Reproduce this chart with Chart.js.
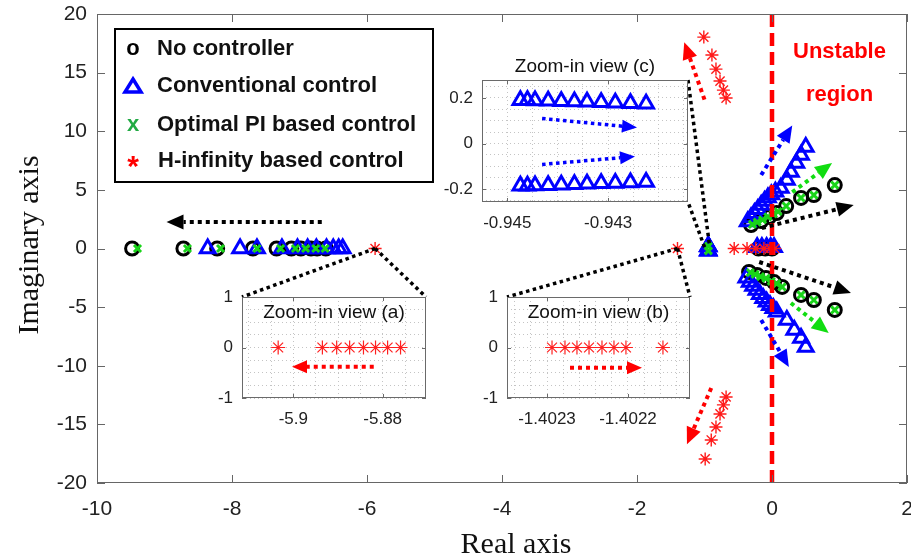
<!DOCTYPE html>
<html><head><meta charset="utf-8">
<script src="https://cdn.jsdelivr.net/npm/chart.js@4.4.0/dist/chart.umd.min.js"></script>
<style>
html,body{margin:0;padding:0;background:#fff;}
#wrap{position:relative;width:911px;height:560px;overflow:hidden;}
#main{position:absolute;left:0;top:0;}
.inset{position:absolute;}
.inset canvas{display:block;}
</style></head><body>
<div id="wrap">
<canvas id="main" width="911" height="560"></canvas>
<div class="inset" id="boxA" style="left:200px;top:280px;width:240px;height:160px"><canvas id="insetA" width="240" height="160"></canvas></div>
<div class="inset" id="boxB" style="left:465px;top:280px;width:240px;height:160px"><canvas id="insetB" width="240" height="160"></canvas></div>
<div class="inset" id="boxC" style="left:440px;top:50px;width:260px;height:195px"><canvas id="insetC" width="260" height="195"></canvas></div>
</div>
<script>
// ---------------- data (main plot: [real, imaginary]) ----------------
const xTicksMain = [-10, -8, -6, -4, -2, 0, 2];
const yTicksMain = [-20, -15, -10, -5, 0, 5, 10, 15, 20];

const noController = [
  [-9.48,0],[-8.72,0],[-8.22,0],[-7.69,0],[-7.34,0],[-7.12,0],[-6.98,0],[-6.83,0],[-6.74,0],[-6.61,0],
  [-0.20,0],[-0.10,0],[0.00,0],
  [-0.31,2.00],[-0.16,2.34],[-0.04,2.69],[0.07,3.03],[0.21,3.62],[0.43,4.31],[0.62,4.56],[0.93,5.41],
  [-0.34,-2.00],[-0.22,-2.26],[-0.09,-2.51],[0.03,-2.86],[0.15,-3.28],[0.43,-3.96],[0.62,-4.39],[0.93,-5.24]
];
const conventional = [
  [-8.36,0],[-7.88,0],[-7.63,0],[-7.26,0],[-7.03,0],[-6.88,0],[-6.75,0],[-6.60,0],[-6.50,0],[-6.42,0],[-6.36,0],
  [-0.945,0.19],[-0.944,0.19],[-0.943,0.18],[-0.942,0.175],
  [-0.945,-0.185],[-0.944,-0.18],[-0.943,-0.175],[-0.942,-0.17],
  [-0.22,0.1],[-0.15,0.1],[-0.08,0.1],[-0.02,0.1],[0.03,0.1],
  [-0.36,2.30],[-0.31,2.65],[-0.26,3.00],[-0.21,3.35],[-0.16,3.70],[-0.11,4.05],[-0.06,4.35],[-0.01,4.60],[0.05,4.85],
  [0.13,5.16],[0.22,5.84],[0.28,6.52],[0.36,7.29],[0.43,7.97],[0.50,8.65],
  [-0.38,-2.50],[-0.33,-2.85],[-0.28,-3.20],[-0.23,-3.55],[-0.18,-3.90],[-0.13,-4.25],[-0.08,-4.55],[-0.03,-4.85],[0.02,-5.10],
  [0.07,-5.40],[0.22,-6.10],[0.33,-6.95],[0.43,-7.63],[0.50,-8.40]
];
const optimalPI = [
  [-9.40,0],[-8.66,0],[-8.17,0],[-7.63,0],[-7.28,0],[-7.06,0],[-6.91,0],[-6.76,0],[-6.62,0],
  [-0.943,0.2],[-0.943,-0.2],
  [-0.29,2.05],[-0.22,2.25],[-0.14,2.45],[-0.06,2.70],[0.02,2.95],[0.09,3.15],[0.21,3.62],[0.43,4.31],[0.62,4.56],[0.93,5.41],
  [-0.32,-2.05],[-0.25,-2.20],[-0.17,-2.40],[-0.09,-2.55],[-0.01,-2.80],[0.07,-3.00],[0.15,-3.28],[0.43,-3.96],[0.62,-4.39],[0.93,-5.24]
];
const hInfinity = [
  [-5.88,0],[-1.40,0],
  [-0.56,0],[-0.37,0],[-0.24,0],[-0.12,0],[-0.03,0],[0.04,0],
  [-1.01,18.03],[-0.89,16.50],[-0.83,15.30],[-0.77,14.28],[-0.72,13.51],[-0.68,12.83],
  [-0.68,-12.66],[-0.72,-13.34],[-0.77,-14.11],[-0.83,-15.22],[-0.90,-16.33],[-0.99,-17.95]
];

// ---------------- data (zoom-in views) ----------------
const insetA_stars = [-5.9034,-5.8935,-5.8903,-5.8874,-5.8843,-5.8816,-5.8789,-5.8760];
const insetA_xLabels = [-5.9, -5.88];
const insetA_xGrid = [-5.91,-5.905,-5.9,-5.895,-5.89,-5.885,-5.88,-5.875];
const insetA_yLabels = [-1, 0, 1];
const insetA_yGrid = [-1,-0.75,-0.5,-0.25,0,0.25,0.5,0.75,1];

const insetB_stars = [-1.4022938,-1.4022778,-1.4022630,-1.4022481,-1.4022321,-1.4022173,-1.4022025,-1.4021568];
const insetB_xLabels = [-1.4023, -1.4022];
const insetB_xGrid = [-1.40234,-1.40232,-1.4023,-1.40228,-1.40226,-1.40224,-1.40222,-1.4022,-1.40218,-1.40216,-1.40214];
const insetB_yLabels = [-1, 0, 1];
const insetB_yGrid = [-1,-0.75,-0.5,-0.25,0,0.25,0.5,0.75,1];

const insetC_re = [-0.94474,-0.94460,-0.94445,-0.94419,-0.94393,-0.94367,-0.94342,-0.94314,-0.94286,-0.94256,-0.94225];
const insetC_imUpper = [0.190,0.190,0.189,0.188,0.186,0.185,0.183,0.181,0.179,0.177,0.175];
const insetC_imLower = [-0.186,-0.186,-0.185,-0.183,-0.181,-0.179,-0.177,-0.175,-0.173,-0.171,-0.169];
const insetC_xLabels = [-0.945, -0.943];
const insetC_xGrid = [-0.945,-0.9445,-0.944,-0.9435,-0.943,-0.9425,-0.942,-0.9415];
const insetC_yLabels = [-0.2, 0, 0.2];
const insetC_yGrid = [-0.25,-0.2,-0.15,-0.1,-0.05,0,0.05,0.1,0.15,0.2,0.25];

// ---------------- annotations (data units) ----------------
const mainArrows = [
  {from:[-6.67,2.26], to:[-8.97,2.26], color:'#000'},
  {from:[-1.00,12.7], to:[-1.30,17.6], color:'#ff0000'},
  {from:[-0.90,-11.9], to:[-1.26,-16.7], color:'#ff0000'},
  {from:[-0.16,6.27], to:[0.30,10.5], color:'#0000ff'},
  {from:[0.30,4.8], to:[0.89,7.3], color:'#11dd11'},
  {from:[-0.15,1.75], to:[1.21,3.7], color:'#000'},
  {from:[-0.19,-1.15], to:[1.17,-3.79], color:'#000'},
  {from:[0.28,-4.65], to:[0.84,-7.2], color:'#11dd11'},
  {from:[-0.16,-6.1], to:[0.25,-10.1], color:'#0000ff'}
];
const connectors = [
  {at:[-5.88,0], inset:'A', corner:'tl'}, {at:[-5.88,0], inset:'A', corner:'tr'},
  {at:[-1.40,0], inset:'B', corner:'tl'}, {at:[-1.40,0], inset:'B', corner:'tr'},
  {at:[-0.93,0.45], inset:'C', corner:'tr'}, {at:[-1.0,0.12], inset:'C', corner:'br'}
];
const legendItems = [
  {sym:'o', label:'No controller', color:'#000'},
  {sym:'tri', label:'Conventional control', color:'#0000ff'},
  {sym:'x', label:'Optimal PI based control', color:'#22aa44'},
  {sym:'*', label:'H-infinity based control', color:'#ff0000'}
];

const SANS = "'Liberation Sans', Arial, sans-serif";
const SERIF = "'Liberation Serif', 'Times New Roman', serif";
const pts = arr => arr.map(([x,y]) => ({x, y}));

function drawArrow(ctx, x1, y1, x2, y2, color, lw, hl, hw, dash){
  const ang = Math.atan2(y2-y1, x2-x1);
  const bx = x2 - hl*Math.cos(ang), by = y2 - hl*Math.sin(ang);
  ctx.save();
  ctx.strokeStyle = color; ctx.fillStyle = color; ctx.lineWidth = lw;
  ctx.setLineDash(dash); ctx.lineCap = 'butt';
  ctx.beginPath(); ctx.moveTo(x1,y1); ctx.lineTo(bx,by); ctx.stroke();
  ctx.setLineDash([]);
  ctx.beginPath(); ctx.moveTo(x2,y2);
  ctx.lineTo(bx + hw/2*Math.sin(ang), by - hw/2*Math.cos(ang));
  ctx.lineTo(bx - hw/2*Math.sin(ang), by + hw/2*Math.cos(ang));
  ctx.closePath(); ctx.fill();
  ctx.restore();
}
function labelFor(v, labels){
  for (const L of labels){ if (Math.abs(v - L) < 1e-9) return String(L); }
  return '';
}
function noPadX(s, h){ s.height = h; s.paddingLeft = 0; s.paddingRight = 0; }
function noPadY(s, w){ s.width = w; s.paddingTop = 0; s.paddingBottom = 0; }

// ---------------- inset charts ----------------
function insetDecor(opt){
  return {
    id:'insetDecor',
    beforeDraw(chart){
      const {ctx, chartArea:a} = chart;
      ctx.save(); ctx.fillStyle = '#fff';
      ctx.fillRect(a.left, a.top, a.right-a.left, a.bottom-a.top);
      ctx.restore();
    },
    afterDatasetsDraw(chart){
      const {ctx, chartArea:a, scales:{x, y}} = chart;
      ctx.save();
      (opt.arrows || []).forEach(ar => {
        drawArrow(ctx, x.getPixelForValue(ar.from[0]), y.getPixelForValue(ar.from[1]),
          x.getPixelForValue(ar.to[0]), y.getPixelForValue(ar.to[1]), ar.color, ar.lw, 15, 13, [ar.lw, ar.lw]);
      });
      ctx.strokeStyle = '#6a6a6a'; ctx.lineWidth = 1; ctx.setLineDash([]);
      ctx.strokeRect(a.left+0.5, a.top+0.5, a.right-a.left-1, a.bottom-a.top-1);
      ctx.beginPath();
      opt.xLabels.forEach(v => { const px = Math.round(x.getPixelForValue(v))+0.5;
        ctx.moveTo(px, a.bottom); ctx.lineTo(px, a.bottom-4); ctx.moveTo(px, a.top); ctx.lineTo(px, a.top+4); });
      opt.yLabels.forEach(v => { const py = Math.round(y.getPixelForValue(v))+0.5;
        ctx.moveTo(a.left, py); ctx.lineTo(a.left+4, py); ctx.moveTo(a.right, py); ctx.lineTo(a.right-4, py); });
      ctx.stroke();
      ctx.fillStyle = '#111'; ctx.font = '19px ' + SANS; ctx.textAlign = 'center'; ctx.textBaseline = 'middle';
      ctx.fillText(opt.title, (a.left + a.right)/2, opt.titleY);
      ctx.restore();
    }
  };
}
function insetChart(id, opt){
  return new Chart(document.getElementById(id), {
    type:'scatter',
    data:{datasets: opt.datasets},
    options:{
      responsive:false, animation:false, devicePixelRatio:1, events:[],
      layout:{autoPadding:false, padding:{top:opt.padTop, right:opt.padRight, left:0, bottom:0}},
      plugins:{legend:{display:false}, tooltip:{enabled:false}},
      scales:{
        x:{type:'linear', min:opt.xMin, max:opt.xMax,
          afterBuildTicks:s => { s.ticks = opt.xGrid.map(v => ({value:v})); },
          afterFit:s => noPadX(s, opt.xH),
          grid:{color:'#c4c4c4', lineWidth:1, drawTicks:false},
          border:{display:false, dash:[1,3]},
          ticks:{autoSkip:false, maxRotation:0, padding:opt.xPad, font:{family:SANS, size:17}, color:'#222',
            callback:v => labelFor(v, opt.xLabels)}},
        y:{type:'linear', min:opt.yMin, max:opt.yMax,
          afterBuildTicks:s => { s.ticks = opt.yGrid.map(v => ({value:v})); },
          afterFit:s => noPadY(s, opt.yW),
          grid:{color:'#c4c4c4', lineWidth:1, drawTicks:false},
          border:{display:false, dash:[1,3]},
          ticks:{autoSkip:false, padding:opt.yPad, font:{family:SANS, size:17}, color:'#222',
            callback:v => labelFor(v, opt.yLabels)}}
      }
    },
    plugins:[insetDecor(opt)]
  });
}

const starStyle = {pointStyle:'star', pointRadius:7, borderColor:'#ff2020', backgroundColor:'#ff2020', borderWidth:1.2, showLine:false};
const triStyle = {pointStyle:'triangle', pointRadius:8.5, borderColor:'#0000ff', backgroundColor:'rgba(0,0,0,0)', borderWidth:3, showLine:false};

const chartA = insetChart('insetA', {
  datasets:[Object.assign({data: insetA_stars.map(v => ({x:v, y:0}))}, starStyle)],
  xMin:-5.9115, xMax:-5.8703, yMin:-1, yMax:1,
  xGrid:insetA_xGrid, xLabels:insetA_xLabels, yGrid:insetA_yGrid, yLabels:insetA_yLabels,
  padTop:17, padRight:14, xH:42, yW:42, xPad:11, yPad:9,
  title:'Zoom-in view (a)', titleY:33,
  arrows:[{from:[-5.8820,-0.38], to:[-5.9003,-0.38], color:'#ff0000', lw:4}]
});
const chartB = insetChart('insetB', {
  datasets:[Object.assign({data: insetB_stars.map(v => ({x:v, y:0}))}, starStyle)],
  xMin:-1.4023494, xMax:-1.4021234, yMin:-1, yMax:1,
  xGrid:insetB_xGrid, xLabels:insetB_xLabels, yGrid:insetB_yGrid, yLabels:insetB_yLabels,
  padTop:17, padRight:15, xH:42, yW:42, xPad:11, yPad:9,
  title:'Zoom-in view (b)', titleY:33,
  arrows:[{from:[-1.4022716,-0.4], to:[-1.4021827,-0.4], color:'#ff0000', lw:4}]
});
const chartC = insetChart('insetC', {
  datasets:[
    Object.assign({data: insetC_re.map((v,i) => ({x:v, y:insetC_imUpper[i]}))}, triStyle),
    Object.assign({data: insetC_re.map((v,i) => ({x:v, y:insetC_imLower[i]}))}, triStyle)
  ],
  xMin:-0.9455, xMax:-0.94142, yMin:-0.257, yMax:0.279,
  xGrid:insetC_xGrid, xLabels:insetC_xLabels, yGrid:insetC_yGrid, yLabels:insetC_yLabels,
  padTop:30, padRight:12, xH:43, yW:42, xPad:11, yPad:9,
  title:'Zoom-in view (c)', titleY:17,
  arrows:[{from:[-0.94431,0.11], to:[-0.94243,0.07], color:'#0000ff', lw:3.5},
          {from:[-0.94431,-0.092], to:[-0.94247,-0.057], color:'#0000ff', lw:3.5}]
});
const insets = {
  A:{chart:chartA, el:document.getElementById('boxA')},
  B:{chart:chartB, el:document.getElementById('boxB')},
  C:{chart:chartC, el:document.getElementById('boxC')}
};

// ---------------- main chart ----------------
const mainDecor = {
  id:'mainDecor',
  afterDatasetsDraw(chart){
    const {ctx, chartArea:a, scales:{x, y}} = chart;
    ctx.save();
    // red dashed stability boundary
    ctx.strokeStyle = '#ff0000'; ctx.lineWidth = 4.5; ctx.setLineDash([13,6]);
    ctx.beginPath(); ctx.moveTo(x.getPixelForValue(0), y.getPixelForValue(20));
    ctx.lineTo(x.getPixelForValue(0), y.getPixelForValue(-20)); ctx.stroke();
    // connectors to zoom-in views
    ctx.strokeStyle = '#000'; ctx.lineWidth = 3.5; ctx.setLineDash([3.5,3.5]);
    connectors.forEach(c => {
      const ins = insets[c.inset], ca = ins.chart.chartArea;
      const ox = ins.el.offsetLeft, oy = ins.el.offsetTop;
      const cx = ox + (c.corner[1] === 'l' ? ca.left : ca.right);
      const cy = oy + (c.corner[0] === 't' ? ca.top : ca.bottom);
      ctx.beginPath(); ctx.moveTo(x.getPixelForValue(c.at[0]), y.getPixelForValue(c.at[1]));
      ctx.lineTo(cx, cy); ctx.stroke();
    });
    ctx.setLineDash([]);
    // arrows
    mainArrows.forEach(ar => drawArrow(ctx, x.getPixelForValue(ar.from[0]), y.getPixelForValue(ar.from[1]),
      x.getPixelForValue(ar.to[0]), y.getPixelForValue(ar.to[1]), ar.color, 4, 17, 15, [4,4]));
    // frame with inward ticks
    ctx.strokeStyle = '#666'; ctx.lineWidth = 1;
    ctx.strokeRect(a.left+0.5, a.top+0.5, a.right-a.left-1, a.bottom-a.top-1);
    ctx.beginPath();
    xTicksMain.forEach(v => { const px = Math.round(x.getPixelForValue(v))+0.5;
      ctx.moveTo(px, a.bottom); ctx.lineTo(px, a.bottom-8); ctx.moveTo(px, a.top); ctx.lineTo(px, a.top+8); });
    yTicksMain.forEach(v => { const py = Math.round(y.getPixelForValue(v))+0.5;
      ctx.moveTo(a.left, py); ctx.lineTo(a.left+8, py); ctx.moveTo(a.right, py); ctx.lineTo(a.right-8, py); });
    ctx.stroke();
    // unstable region label
    ctx.fillStyle = '#ff0000'; ctx.font = 'bold 22px ' + SANS; ctx.textAlign = 'center'; ctx.textBaseline = 'middle';
    ctx.fillText('Unstable', x.getPixelForValue(1.0), y.getPixelForValue(16.75));
    ctx.fillText('region', x.getPixelForValue(1.0), y.getPixelForValue(13.1));
    // legend box
    const lx = a.left + 18, ly = a.top + 15, lw = 318, lh = 153;
    ctx.fillStyle = '#fff'; ctx.fillRect(lx, ly, lw, lh);
    ctx.strokeStyle = '#000'; ctx.lineWidth = 2; ctx.strokeRect(lx, ly, lw, lh);
    const rows = [20, 57, 96, 132];
    legendItems.forEach((it, i) => {
      const cy = ly + rows[i], sx = lx + 18;
      ctx.fillStyle = it.color; ctx.strokeStyle = it.color;
      if (it.sym === 'tri'){
        ctx.lineWidth = 3.5; ctx.beginPath();
        ctx.moveTo(sx, cy-7); ctx.lineTo(sx+8, cy+6); ctx.lineTo(sx-8, cy+6); ctx.closePath(); ctx.stroke();
      } else if (it.sym === '*'){
        ctx.font = 'bold 30px ' + SANS; ctx.textAlign = 'center'; ctx.textBaseline = 'middle';
        ctx.fillText('*', sx, cy + 7);
      } else {
        ctx.font = 'bold 22px ' + SANS; ctx.textAlign = 'center'; ctx.textBaseline = 'middle';
        ctx.fillText(it.sym, sx, cy);
      }
      ctx.fillStyle = '#111'; ctx.font = 'bold 22px ' + SANS; ctx.textAlign = 'left'; ctx.textBaseline = 'middle';
      ctx.fillText(it.label, lx + (i === 3 ? 43 : 42), cy);
    });
    // axis titles
    ctx.fillStyle = '#111'; ctx.font = '30px ' + SERIF; ctx.textAlign = 'center'; ctx.textBaseline = 'middle';
    ctx.fillText('Real axis', 516, 545);
    ctx.translate(30, 245); ctx.rotate(-Math.PI/2);
    ctx.fillText('Imaginary axis', 0, 0);
    ctx.restore();
  }
};

new Chart(document.getElementById('main'), {
  type:'scatter',
  data:{datasets:[
    {label:'H-infinity based control', data:pts(hInfinity), pointStyle:'star', pointRadius:6.5,
      borderColor:'#ff1a1a', backgroundColor:'#ff1a1a', borderWidth:1.4, order:0},
    {label:'Optimal PI based control', data:pts(optimalPI), pointStyle:'crossRot', pointRadius:5,
      borderColor:'#19d419', backgroundColor:'#19d419', borderWidth:3, order:1},
    {label:'Conventional control', data:pts(conventional), pointStyle:'triangle', pointRadius:8.5,
      borderColor:'#0000ff', backgroundColor:'rgba(0,0,0,0)', borderWidth:3, order:2},
    {label:'No controller', data:pts(noController), pointStyle:'circle', pointRadius:6.5,
      borderColor:'#000', backgroundColor:'rgba(0,0,0,0)', borderWidth:3, order:3}
  ]},
  options:{
    responsive:false, animation:false, devicePixelRatio:1, events:[],
    layout:{autoPadding:false, padding:{top:14, right:4, left:0, bottom:0}},
    plugins:{legend:{display:false}, tooltip:{enabled:false}},
    scales:{
      x:{type:'linear', min:-10, max:2,
        afterBuildTicks:s => { s.ticks = xTicksMain.map(v => ({value:v})); },
        afterFit:s => noPadX(s, 77),
        grid:{display:false, drawTicks:false}, border:{display:false},
        ticks:{autoSkip:false, maxRotation:0, padding:14, font:{family:SANS, size:21}, color:'#222'}},
      y:{type:'linear', min:-20, max:20,
        afterBuildTicks:s => { s.ticks = yTicksMain.map(v => ({value:v})); },
        afterFit:s => noPadY(s, 97),
        grid:{display:false, drawTicks:false}, border:{display:false},
        ticks:{autoSkip:false, padding:10, font:{family:SANS, size:21}, color:'#222'}}
    }
  },
  plugins:[mainDecor]
});
</script>
</body></html>
